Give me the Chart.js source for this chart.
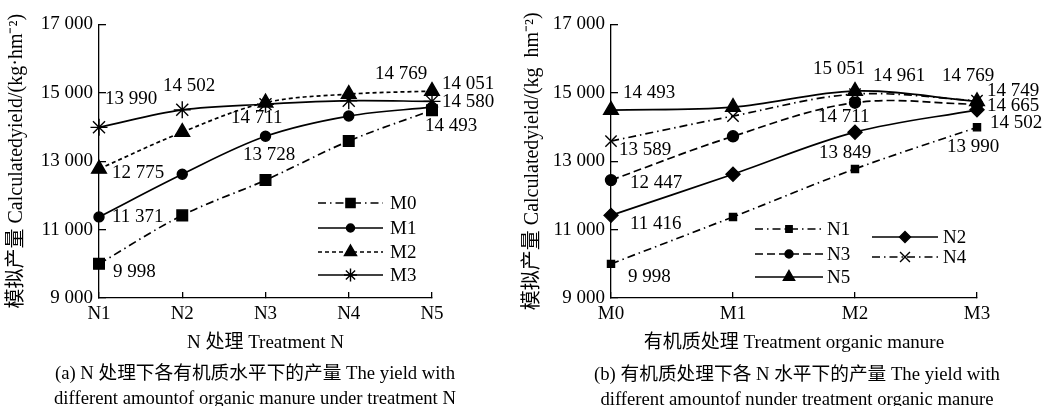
<!DOCTYPE html>
<html>
<head>
<meta charset="utf-8">
<script src="https://cdn.jsdelivr.net/npm/chart.js@4/dist/chart.umd.min.js"></script>
<style>
  body { margin:0; background:#fff; width:1052px; height:406px; overflow:hidden; position:relative;
         font-family:"Liberation Serif","Noto Sans CJK SC",serif; color:#000; }
  .box { position:absolute; top:0; }
  .cap { position:absolute; font-size:18.7px; text-align:center; white-space:nowrap; line-height:25px; }
</style>
</head>
<body>
<div class="box" style="left:0"><canvas id="left" width="520" height="406"></canvas></div>
<div class="box" style="left:516px"><canvas id="right" width="536" height="406"></canvas></div>
<div class="cap" style="left:0;width:510px;top:360px">(a) N 处理下各有机质水平下的产量 The yield with<br>different amountof organic manure under treatment N</div>
<div class="cap" style="left:542px;width:510px;top:361px">(b) 有机质处理下各 N 水平下的产量 The yield with<br>different amountof nunder treatment organic manure</div>
<script>
// yields (kg/hm2), one array per organic manure level, over N1..N5
const nLevels = ['N1', 'N2', 'N3', 'N4', 'N5'];
const mLevels = ['M0', 'M1', 'M2', 'M3'];
const m0 = [9998, 11416, 12447, 13589, 14493];
const m1 = [11371, 12620, 13728, 14320, 14580];
const m2 = [12775, 13849, 14711, 14961, 15051];
const m3 = [13990, 14502, 14665, 14769, 14749];
const yTicks = [9000, 11000, 13000, 15000, 17000];

// the numbers printed next to the points
const leftNotes = ['13 990', '14 502', '14 711', '13 728', '12 775', '14 769', '14 051', '14 580', '14 493', '11 371', '9 998'];
const rightNotes = ['14 493', '13 589', '12 447', '15 051', '14 961', '14 711', '13 849', '14 769', '14 749', '14 665', '14 502', '13 990', '11 416', '9 998'];

// ---- layout / style ----
const FONT = '"Liberation Serif", "Noto Sans CJK SC", serif';
const leftNotePos = [[105,99],[163,86],[231,118],[243,155],[112,173],[375,74],[442,84],[442,102],[425,126],[112,217],[113,272]];
const rightNotePos = [[107,93],[103,150],[114,183],[297,69],[357,76],[302,117],[303,153],[426,76],[471,91],[471,106],[474,123],[431,147],[114,224],[112,277]];
// [x1, x2, y, textX]
const leftKeys = [[318,383,203],[318,383,228],[318,383,252],[318,383,275]].map(k => k.concat(390));
const rightKeys = [[239,307,229,311],[356,422,237,427],[239,307,254,311],[356,422,257,427],[239,307,277,311]];

const leftStyle = [
  { pointStyle:'rect', radius:7.5, key:6.5, dash:[8,4,1.5,4] },
  { pointStyle:'circle', radius:5, key:4, dash:[] },
  { pointStyle:'triangle', radius:8.5, key:7, dash:[4,3] },
  { pointStyle:'star', radius:8.5, key:6.5, dash:[] }
];
const rightStyle = [
  { pointStyle:'rect', radius:5, key:4.5, dash:[8,4,1.5,4] },
  { pointStyle:'rectRot', radius:7, key:5.5, dash:[] },
  { pointStyle:'circle', radius:5.5, key:4, dash:[8,4] },
  { pointStyle:'crossRot', radius:8, key:7, dash:[8,4,1.5,4] },
  { pointStyle:'triangle', radius:8.5, key:6.5, dash:[] }
];

const fmt = v => String(v).replace(/\B(?=(\d{3})+(?!\d))/g, ' ');

function makeSet(label, data, st) {
  return {
    label, data,
    borderColor:'#000', backgroundColor:'#000', borderWidth:1.7,
    borderDash: st.dash, tension:0.35, clip:false,
    pointStyle: st.pointStyle, pointRadius: st.radius, pointHoverRadius: st.radius,
    pointBorderWidth:1.4, pointBorderColor:'#000', pointBackgroundColor:'#000',
    keyRadius: st.key
  };
}

function extras(texts, pos, keys) {
  return {
    id:'extras',
    afterDraw(chart) {
      const ctx = chart.ctx;
      ctx.save();
      ctx.fillStyle = '#000';
      ctx.strokeStyle = '#000';
      ctx.font = '19px ' + FONT;
      ctx.textBaseline = 'middle';
      ctx.textAlign = 'left';
      texts.forEach((t, i) => ctx.fillText(t, pos[i][0], pos[i][1]));
      chart.data.datasets.forEach((ds, i) => {
        const k = keys[i];
        ctx.lineWidth = 1.7;
        ctx.setLineDash(ds.borderDash);
        ctx.beginPath();
        ctx.moveTo(k[0], k[2]);
        ctx.lineTo(k[1], k[2]);
        ctx.stroke();
        ctx.setLineDash([]);
        ctx.lineWidth = 1.4;
        Chart.helpers.drawPoint(ctx, { pointStyle: ds.pointStyle, rotation: 0, radius: ds.keyRadius, borderWidth: 1.4 }, (k[0] + k[1]) / 2, k[2]);
        ctx.fillText(ds.label, k[3], k[2] + 1);
      });
      ctx.restore();
    }
  };
}

function makeChart(id, cats, sets, yWidth, padRight, xTitle, yTitle, plugin) {
  return new Chart(document.getElementById(id), {
    type:'line',
    data:{ labels: cats, datasets: sets },
    options:{
      responsive:false, animation:false, events:[],
      layout:{ padding:{ left:0, top:21, right:padRight, bottom:0 } },
      plugins:{ legend:{ display:false }, tooltip:{ enabled:false } },
      scales:{
        x:{
          offset:false,
          grid:{ offset:false, drawOnChartArea:false, tickLength:-6, color:'#000', lineWidth:1.3 },
          border:{ color:'#000', width:1.3 },
          ticks:{ color:'#000', font:{ family:FONT, size:19 }, padding:11, maxRotation:0 },
          title:{ display:true, text:xTitle, color:'#000', font:{ family:FONT, size:19 }, padding:{ top:0, bottom:52 } },
          afterFit(s) { s.height = 108; }
        },
        y:{
          min:yTicks[0], max:yTicks[yTicks.length - 1],
          afterBuildTicks(s) { s.ticks = yTicks.map(v => ({ value:v })); },
          grid:{ drawOnChartArea:false, tickLength:-7, color:'#000', lineWidth:1.3 },
          border:{ color:'#000', width:1.3 },
          ticks:{ color:'#000', font:{ family:FONT, size:19 }, padding:13, callback: v => fmt(v) },
          title:{ display:true, text:yTitle, color:'#000', font:{ family:FONT, size:20 }, padding:{ top:4.5, bottom:0 } },
          afterFit(s) { s.width = yWidth; }
        }
      }
    },
    plugins:[plugin]
  });
}

const mSeries = [m0, m1, m2, m3];
const leftSets = mSeries.map((d, i) => makeSet(mLevels[i], d, leftStyle[i]));
// transpose: each N level over M0..M3
const rightSets = nLevels.map((n, j) => makeSet(n, mSeries.map(d => d[j]), rightStyle[j]));

makeChart('left', nLevels, leftSets, 99, 88, 'N 处理 Treatment N',
  '模拟产量 Calculatedyield/(kg·hm⁻²)', extras(leftNotes, leftNotePos, leftKeys));
makeChart('right', mLevels, rightSets, 95, 75, '有机质处理 Treatment organic manure',
  '模拟产量 Calculatedyield/(kg  hm⁻²)', extras(rightNotes, rightNotePos, rightKeys));
</script>
</body>
</html>
